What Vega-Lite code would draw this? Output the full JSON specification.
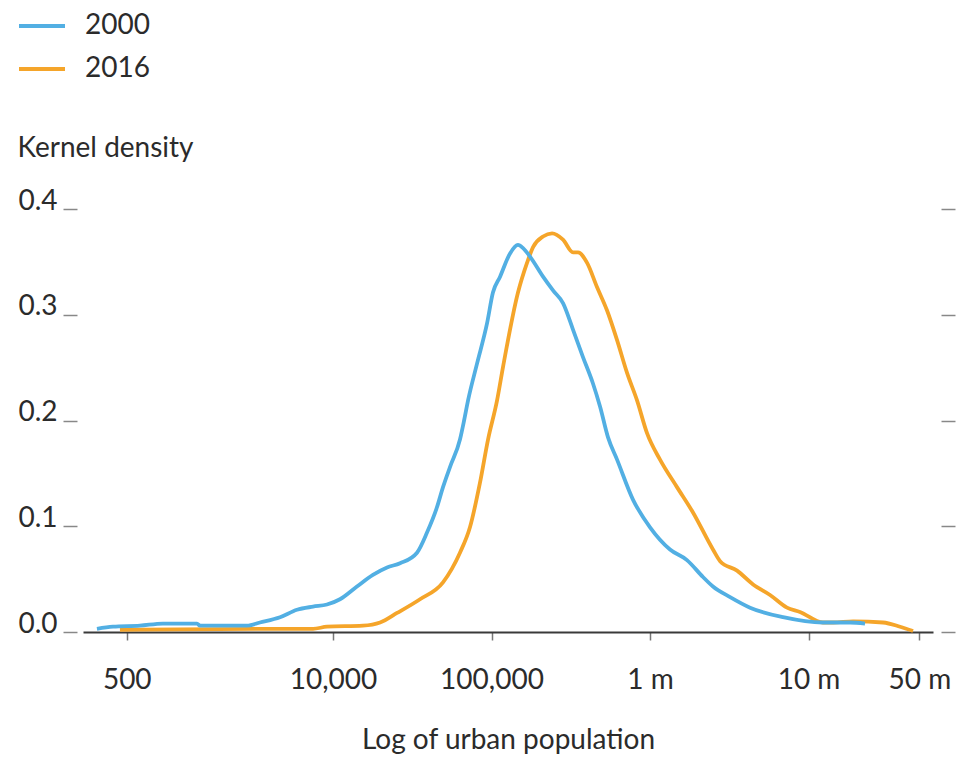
{
  "$schema": "https://vega.github.io/schema/vega-lite/v6.json",
  "width": 850,
  "height": 423,
  "autosize": {"type": "none"},
  "padding": {"left": 83, "top": 209, "right": 24, "bottom": 129},
  "background": "white",
  "config": {
    "font": "Lato",
    "view": {"stroke": null},
    "axis": {
      "labelFont": "Lato",
      "titleFont": "Lato",
      "labelColor": "#2b2b2b",
      "titleColor": "#2b2b2b",
      "labelFontSize": 28,
      "titleFontSize": 28,
      "titleFontWeight": "normal",
      "grid": false
    },
    "legend": {
      "labelFont": "Lato",
      "labelFontSize": 28,
      "labelColor": "#2b2b2b"
    }
  },
  "datasets": {
    "density": [
      {"year": "2000", "log_pop": 2.511, "density": 0.003},
      {"year": "2000", "log_pop": 2.612, "density": 0.005},
      {"year": "2000", "log_pop": 2.782, "density": 0.006},
      {"year": "2000", "log_pop": 2.927, "density": 0.008},
      {"year": "2000", "log_pop": 3.142, "density": 0.008},
      {"year": "2000", "log_pop": 3.161, "density": 0.006},
      {"year": "2000", "log_pop": 3.457, "density": 0.006},
      {"year": "2000", "log_pop": 3.539, "density": 0.009},
      {"year": "2000", "log_pop": 3.666, "density": 0.014},
      {"year": "2000", "log_pop": 3.773, "density": 0.021},
      {"year": "2000", "log_pop": 3.874, "density": 0.024},
      {"year": "2000", "log_pop": 3.962, "density": 0.026},
      {"year": "2000", "log_pop": 4.044, "density": 0.031},
      {"year": "2000", "log_pop": 4.151, "density": 0.043},
      {"year": "2000", "log_pop": 4.252, "density": 0.054},
      {"year": "2000", "log_pop": 4.341, "density": 0.061},
      {"year": "2000", "log_pop": 4.423, "density": 0.065},
      {"year": "2000", "log_pop": 4.530, "density": 0.075},
      {"year": "2000", "log_pop": 4.593, "density": 0.094},
      {"year": "2000", "log_pop": 4.656, "density": 0.118},
      {"year": "2000", "log_pop": 4.694, "density": 0.137},
      {"year": "2000", "log_pop": 4.738, "density": 0.156},
      {"year": "2000", "log_pop": 4.801, "density": 0.182},
      {"year": "2000", "log_pop": 4.827, "density": 0.200},
      {"year": "2000", "log_pop": 4.852, "density": 0.219},
      {"year": "2000", "log_pop": 4.909, "density": 0.254},
      {"year": "2000", "log_pop": 4.972, "density": 0.292},
      {"year": "2000", "log_pop": 5.009, "density": 0.321},
      {"year": "2000", "log_pop": 5.054, "density": 0.336},
      {"year": "2000", "log_pop": 5.117, "density": 0.358},
      {"year": "2000", "log_pop": 5.167, "density": 0.366},
      {"year": "2000", "log_pop": 5.199, "density": 0.363},
      {"year": "2000", "log_pop": 5.243, "density": 0.355},
      {"year": "2000", "log_pop": 5.325, "density": 0.336},
      {"year": "2000", "log_pop": 5.388, "density": 0.323},
      {"year": "2000", "log_pop": 5.451, "density": 0.311},
      {"year": "2000", "log_pop": 5.514, "density": 0.286},
      {"year": "2000", "log_pop": 5.577, "density": 0.260},
      {"year": "2000", "log_pop": 5.640, "density": 0.235},
      {"year": "2000", "log_pop": 5.685, "density": 0.213},
      {"year": "2000", "log_pop": 5.735, "density": 0.184},
      {"year": "2000", "log_pop": 5.792, "density": 0.163},
      {"year": "2000", "log_pop": 5.893, "density": 0.125},
      {"year": "2000", "log_pop": 6.000, "density": 0.099},
      {"year": "2000", "log_pop": 6.126, "density": 0.078},
      {"year": "2000", "log_pop": 6.233, "density": 0.068},
      {"year": "2000", "log_pop": 6.334, "density": 0.052},
      {"year": "2000", "log_pop": 6.397, "density": 0.043},
      {"year": "2000", "log_pop": 6.505, "density": 0.033},
      {"year": "2000", "log_pop": 6.631, "density": 0.023},
      {"year": "2000", "log_pop": 6.839, "density": 0.014},
      {"year": "2000", "log_pop": 7.091, "density": 0.009},
      {"year": "2000", "log_pop": 7.262, "density": 0.009},
      {"year": "2000", "log_pop": 7.356, "density": 0.008},
      {"year": "2016", "log_pop": 2.656, "density": 0.002},
      {"year": "2016", "log_pop": 3.539, "density": 0.003},
      {"year": "2016", "log_pop": 3.874, "density": 0.003},
      {"year": "2016", "log_pop": 3.962, "density": 0.005},
      {"year": "2016", "log_pop": 4.189, "density": 0.006},
      {"year": "2016", "log_pop": 4.297, "density": 0.009},
      {"year": "2016", "log_pop": 4.404, "density": 0.018},
      {"year": "2016", "log_pop": 4.549, "density": 0.031},
      {"year": "2016", "log_pop": 4.694, "density": 0.047},
      {"year": "2016", "log_pop": 4.801, "density": 0.075},
      {"year": "2016", "log_pop": 4.864, "density": 0.099},
      {"year": "2016", "log_pop": 4.927, "density": 0.141},
      {"year": "2016", "log_pop": 4.978, "density": 0.182},
      {"year": "2016", "log_pop": 5.035, "density": 0.219},
      {"year": "2016", "log_pop": 5.073, "density": 0.251},
      {"year": "2016", "log_pop": 5.167, "density": 0.321},
      {"year": "2016", "log_pop": 5.224, "density": 0.349},
      {"year": "2016", "log_pop": 5.262, "density": 0.364},
      {"year": "2016", "log_pop": 5.325, "density": 0.374},
      {"year": "2016", "log_pop": 5.382, "density": 0.377},
      {"year": "2016", "log_pop": 5.451, "density": 0.371},
      {"year": "2016", "log_pop": 5.514, "density": 0.359},
      {"year": "2016", "log_pop": 5.546, "density": 0.359},
      {"year": "2016", "log_pop": 5.603, "density": 0.349},
      {"year": "2016", "log_pop": 5.666, "density": 0.326},
      {"year": "2016", "log_pop": 5.729, "density": 0.304},
      {"year": "2016", "log_pop": 5.792, "density": 0.276},
      {"year": "2016", "log_pop": 5.855, "density": 0.245},
      {"year": "2016", "log_pop": 5.918, "density": 0.219},
      {"year": "2016", "log_pop": 5.981, "density": 0.188},
      {"year": "2016", "log_pop": 6.063, "density": 0.163},
      {"year": "2016", "log_pop": 6.170, "density": 0.137},
      {"year": "2016", "log_pop": 6.271, "density": 0.113},
      {"year": "2016", "log_pop": 6.397, "density": 0.078},
      {"year": "2016", "log_pop": 6.442, "density": 0.067},
      {"year": "2016", "log_pop": 6.549, "density": 0.058},
      {"year": "2016", "log_pop": 6.650, "density": 0.045},
      {"year": "2016", "log_pop": 6.757, "density": 0.035},
      {"year": "2016", "log_pop": 6.864, "density": 0.023},
      {"year": "2016", "log_pop": 6.946, "density": 0.019},
      {"year": "2016", "log_pop": 7.091, "density": 0.009},
      {"year": "2016", "log_pop": 7.155, "density": 0.009},
      {"year": "2016", "log_pop": 7.281, "density": 0.010},
      {"year": "2016", "log_pop": 7.470, "density": 0.009},
      {"year": "2016", "log_pop": 7.577, "density": 0.005},
      {"year": "2016", "log_pop": 7.659, "density": 0.001}
    ]
  },
  "data": {"name": "density"},
  "encoding": {
    "x": {
      "field": "log_pop",
      "type": "quantitative",
      "scale": {"domain": [2.423, 7.785], "nice": false, "zero": false},
      "axis": {
        "title": "Log of urban population",
        "values": [2.69897, 4, 5, 6, 7, 7.69897],
        "labelExpr": "datum.value < 3 ? '500' : datum.value < 4.5 ? '10,000' : datum.value < 5.5 ? '100,000' : datum.value < 6.5 ? '1 m' : datum.value < 7.5 ? '10 m' : '50 m'",
        "domainColor": "#3a3a3a",
        "domainWidth": 2,
        "tickColor": "#777777",
        "tickWidth": 1.5,
        "tickSize": 8,
        "labelPadding": 26,
        "labelFlush": false,
        "labelOverlap": false,
        "titleY": 116,
        "titleBaseline": "alphabetic"
      }
    },
    "y": {
      "field": "density",
      "type": "quantitative",
      "scale": {"domain": [0, 0.4], "nice": false}
    },
    "color": {
      "field": "year",
      "type": "nominal",
      "scale": {"domain": ["2000", "2016"], "range": ["#52afe3", "#f5a52a"]},
      "legend": {
        "title": null,
        "orient": "none",
        "legendX": -66,
        "legendY": -208,
        "symbolType": "stroke",
        "symbolSize": 2116,
        "symbolStrokeWidth": 4,
        "labelOffset": 18,
        "rowPadding": 4
      }
    }
  },
  "layer": [
    {
      "transform": [{"filter": "datum.year == '2016'"}],
      "mark": {"type": "line", "strokeWidth": 3.8, "interpolate": "monotone"},
      "encoding": {
        "y": {
          "field": "density",
          "type": "quantitative",
          "scale": {"domain": [0, 0.4], "nice": false},
          "axis": {
            "orient": "left",
            "values": [0, 0.1, 0.2, 0.3, 0.4],
            "format": ".1f",
            "domain": false,
            "offset": 6,
            "tickSize": 14,
            "tickColor": "#888888",
            "tickWidth": 1.5,
            "labelPadding": 6,
            "labelBaseline": "alphabetic",
            "title": "Kernel density",
            "titleAngle": 0,
            "titleAlign": "left",
            "titleBaseline": "alphabetic",
            "titleX": -60,
            "titleY": -53
          }
        }
      }
    },
    {
      "transform": [{"filter": "datum.year == '2000'"}],
      "mark": {"type": "line", "strokeWidth": 3.8, "interpolate": "monotone"},
      "encoding": {
        "y": {
          "field": "density",
          "type": "quantitative",
          "scale": {"domain": [0, 0.4], "nice": false},
          "axis": {
            "orient": "right",
            "values": [0, 0.1, 0.2, 0.3, 0.4],
            "labels": false,
            "domain": false,
            "offset": 8,
            "tickSize": 14,
            "tickColor": "#888888",
            "tickWidth": 1.5,
            "title": null
          }
        }
      }
    }
  ],
  "resolve": {"axis": {"y": "independent"}}
}
